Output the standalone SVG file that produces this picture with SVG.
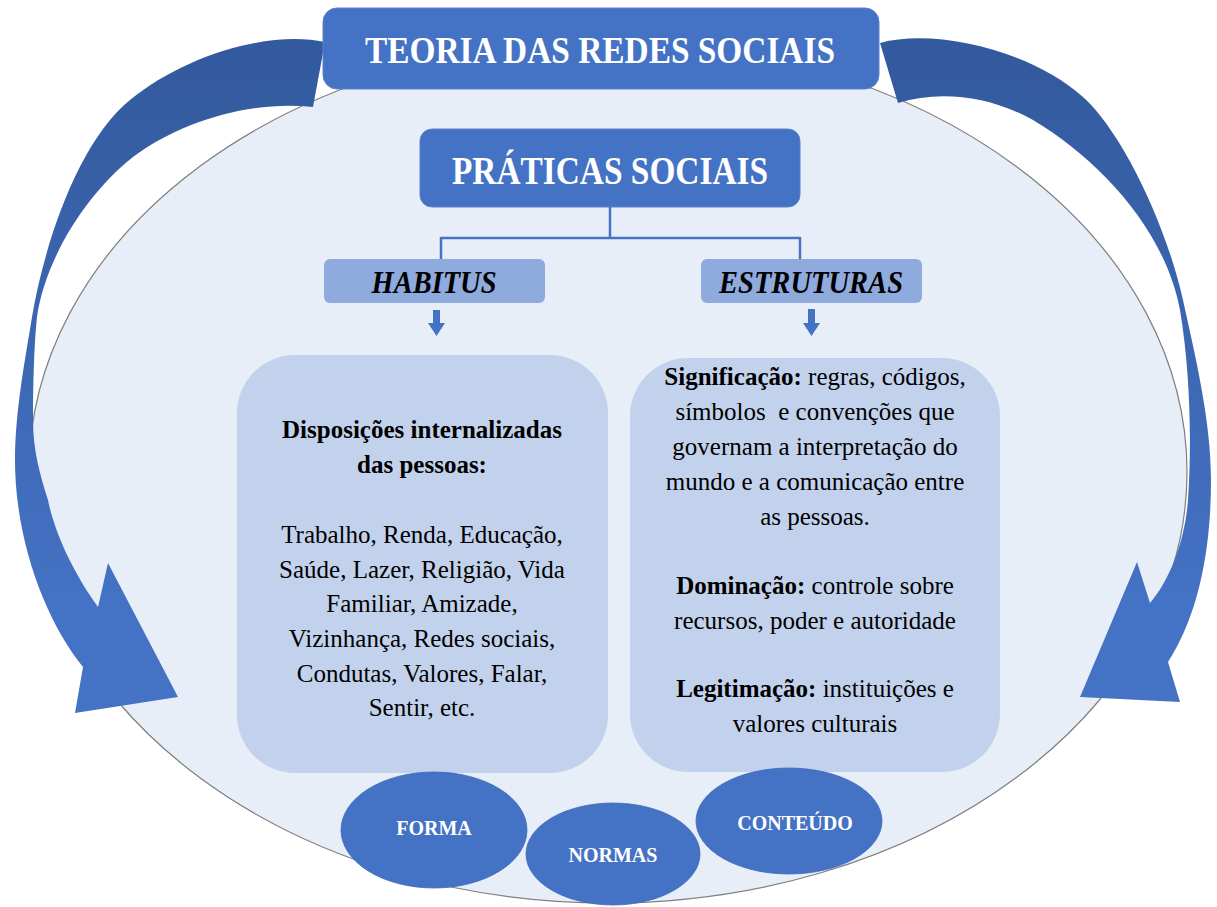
<svg xmlns="http://www.w3.org/2000/svg" width="1217" height="907" viewBox="0 0 1217 907">
<defs>
<linearGradient id="arrowGradL" gradientUnits="userSpaceOnUse" x1="0" y1="60" x2="0" y2="600">
<stop offset="0" stop-color="#335A9E"/>
<stop offset="1" stop-color="#4472C4"/>
</linearGradient>
<linearGradient id="arrowGradR" gradientUnits="userSpaceOnUse" x1="0" y1="60" x2="0" y2="600">
<stop offset="0" stop-color="#335A9E"/>
<stop offset="1" stop-color="#4472C4"/>
</linearGradient>
<style>
.bigEllipse{fill:#E8EEF7;stroke:#7F7F7F;stroke-width:1.2}
.darkBox{fill:#4472C4;stroke:#5A82CC;stroke-width:1}
.midBox{fill:#8FAADC}
.contentBox{fill:#C3D2EC}
.oval{fill:#4472C4;stroke:#3F6BBA;stroke-width:0.8}
.title{font-family:"Liberation Serif","Times New Roman",serif;font-weight:bold;fill:#FFFFFF}
.sub{font-family:"Liberation Serif","Times New Roman",serif;font-weight:bold;font-style:italic;fill:#000000}
.body{font-family:"Liberation Serif","Times New Roman",serif;font-size:25px;fill:#000000;text-anchor:middle}
.b{font-weight:bold}
.ovalText{font-family:"Liberation Serif","Times New Roman",serif;font-weight:bold;font-size:20px;fill:#FFFFFF;text-anchor:middle}
.conn{fill:none;stroke:#4472C4;stroke-width:2.5}
.small{fill:#4472C4}
</style>
</defs>

<g id="outer-ellipse">
<ellipse class="bigEllipse" cx="608" cy="472" rx="579" ry="431"/>
</g>

<g id="curved-arrows">
<path id="arrow-left" fill="url(#arrowGradL)" d="M325,42 C270,30 185,55 130,100 C80,140 45,240 32,317 C26,355 15,410 15,460 C15,540 45,620 83,667 L75,713 L178,697 L108,563 L98,607 C75,575 55,535 48,500 C40,475 33,450 33,420 C33,385 34,345 37,317 C45,260 85,195 133,157 C180,122 250,100 313,107 Z"/>
<path id="arrow-right" fill="url(#arrowGradR)" d="M880,43 C935,28 1030,50 1083,97 C1120,130 1165,220 1183,300 C1195,355 1211,420 1211,480 C1211,560 1195,620 1168,662 L1180,702 L1080,697 L1137,562 L1150,603 C1170,580 1185,540 1188,500 C1192,440 1190,370 1180,310 C1165,230 1100,160 1033,120 C990,96 940,90 898,103 Z"/>
</g>

<g id="title">
<rect class="darkBox" x="323" y="8" width="556" height="81" rx="14"/>
<text class="title" x="600" y="63" font-size="37" text-anchor="middle" textLength="470" lengthAdjust="spacingAndGlyphs">TEORIA DAS REDES SOCIAIS</text>
</g>

<g id="praticas">
<rect class="darkBox" x="420" y="129" width="380" height="78" rx="12"/>
<text class="title" x="610" y="184" font-size="40" text-anchor="middle" textLength="316" lengthAdjust="spacingAndGlyphs">PRÁTICAS SOCIAIS</text>
</g>

<g id="connectors">
<path class="conn" d="M610,207 V238 M441,238 H800 M441,237 V259 M800,237 V259"/>
<path class="small" d="M433,310 H440 V323 H445 L436.5,336 L428,323 H433 Z"/>
<path class="small" d="M808,309 H815 V323 H820 L811.5,336 L803,323 H808 Z"/>
</g>

<g id="habitus">
<rect class="midBox" x="324" y="259" width="221" height="44" rx="6"/>
<text class="sub" x="434" y="293" font-size="32" text-anchor="middle" textLength="125" lengthAdjust="spacingAndGlyphs">HABITUS</text>
</g>

<g id="estruturas">
<rect class="midBox" x="701" y="259" width="221" height="44" rx="6"/>
<text class="sub" x="811" y="293" font-size="32" text-anchor="middle" textLength="184" lengthAdjust="spacingAndGlyphs">ESTRUTURAS</text>
</g>

<g id="habitus-content">
<rect class="contentBox" x="237" y="355" width="371" height="418" rx="58"/>
<text class="body b" x="422" y="438">Disposições internalizadas</text>
<text class="body b" x="422" y="473">das pessoas:</text>
<text class="body" x="422" y="543">Trabalho, Renda, Educação,</text>
<text class="body" x="422" y="578">Saúde, Lazer, Religião, Vida</text>
<text class="body" x="422" y="612">Familiar, Amizade,</text>
<text class="body" x="422" y="647">Vizinhança, Redes sociais,</text>
<text class="body" x="422" y="682">Condutas, Valores, Falar,</text>
<text class="body" x="422" y="716">Sentir, etc.</text>
</g>

<g id="estruturas-content">
<rect class="contentBox" x="630" y="358" width="370" height="414" rx="58"/>
<text class="body" x="815" y="385"><tspan class="b">Significação:</tspan> regras, códigos,</text>
<text class="body" x="815" y="420">símbolos&#160; e convenções que</text>
<text class="body" x="815" y="455">governam a interpretação do</text>
<text class="body" x="815" y="490">mundo e a comunicação entre</text>
<text class="body" x="815" y="525">as pessoas.</text>
<text class="body" x="815" y="594"><tspan class="b">Dominação:</tspan> controle sobre</text>
<text class="body" x="815" y="629">recursos, poder e autoridade</text>
<text class="body" x="815" y="697"><tspan class="b">Legitimação:</tspan> instituições e</text>
<text class="body" x="815" y="732">valores culturais</text>
</g>

<g id="forma">
<ellipse class="oval" cx="434" cy="830" rx="93" ry="58"/>
<text class="ovalText" x="434" y="835">FORMA</text>
</g>

<g id="conteudo">
<ellipse class="oval" cx="789" cy="821" rx="93" ry="53"/>
<text class="ovalText" x="795" y="830">CONTEÚDO</text>
</g>

<g id="normas">
<ellipse class="oval" cx="613" cy="854" rx="87" ry="51"/>
<text class="ovalText" x="613" y="862">NORMAS</text>
</g>
</svg>
